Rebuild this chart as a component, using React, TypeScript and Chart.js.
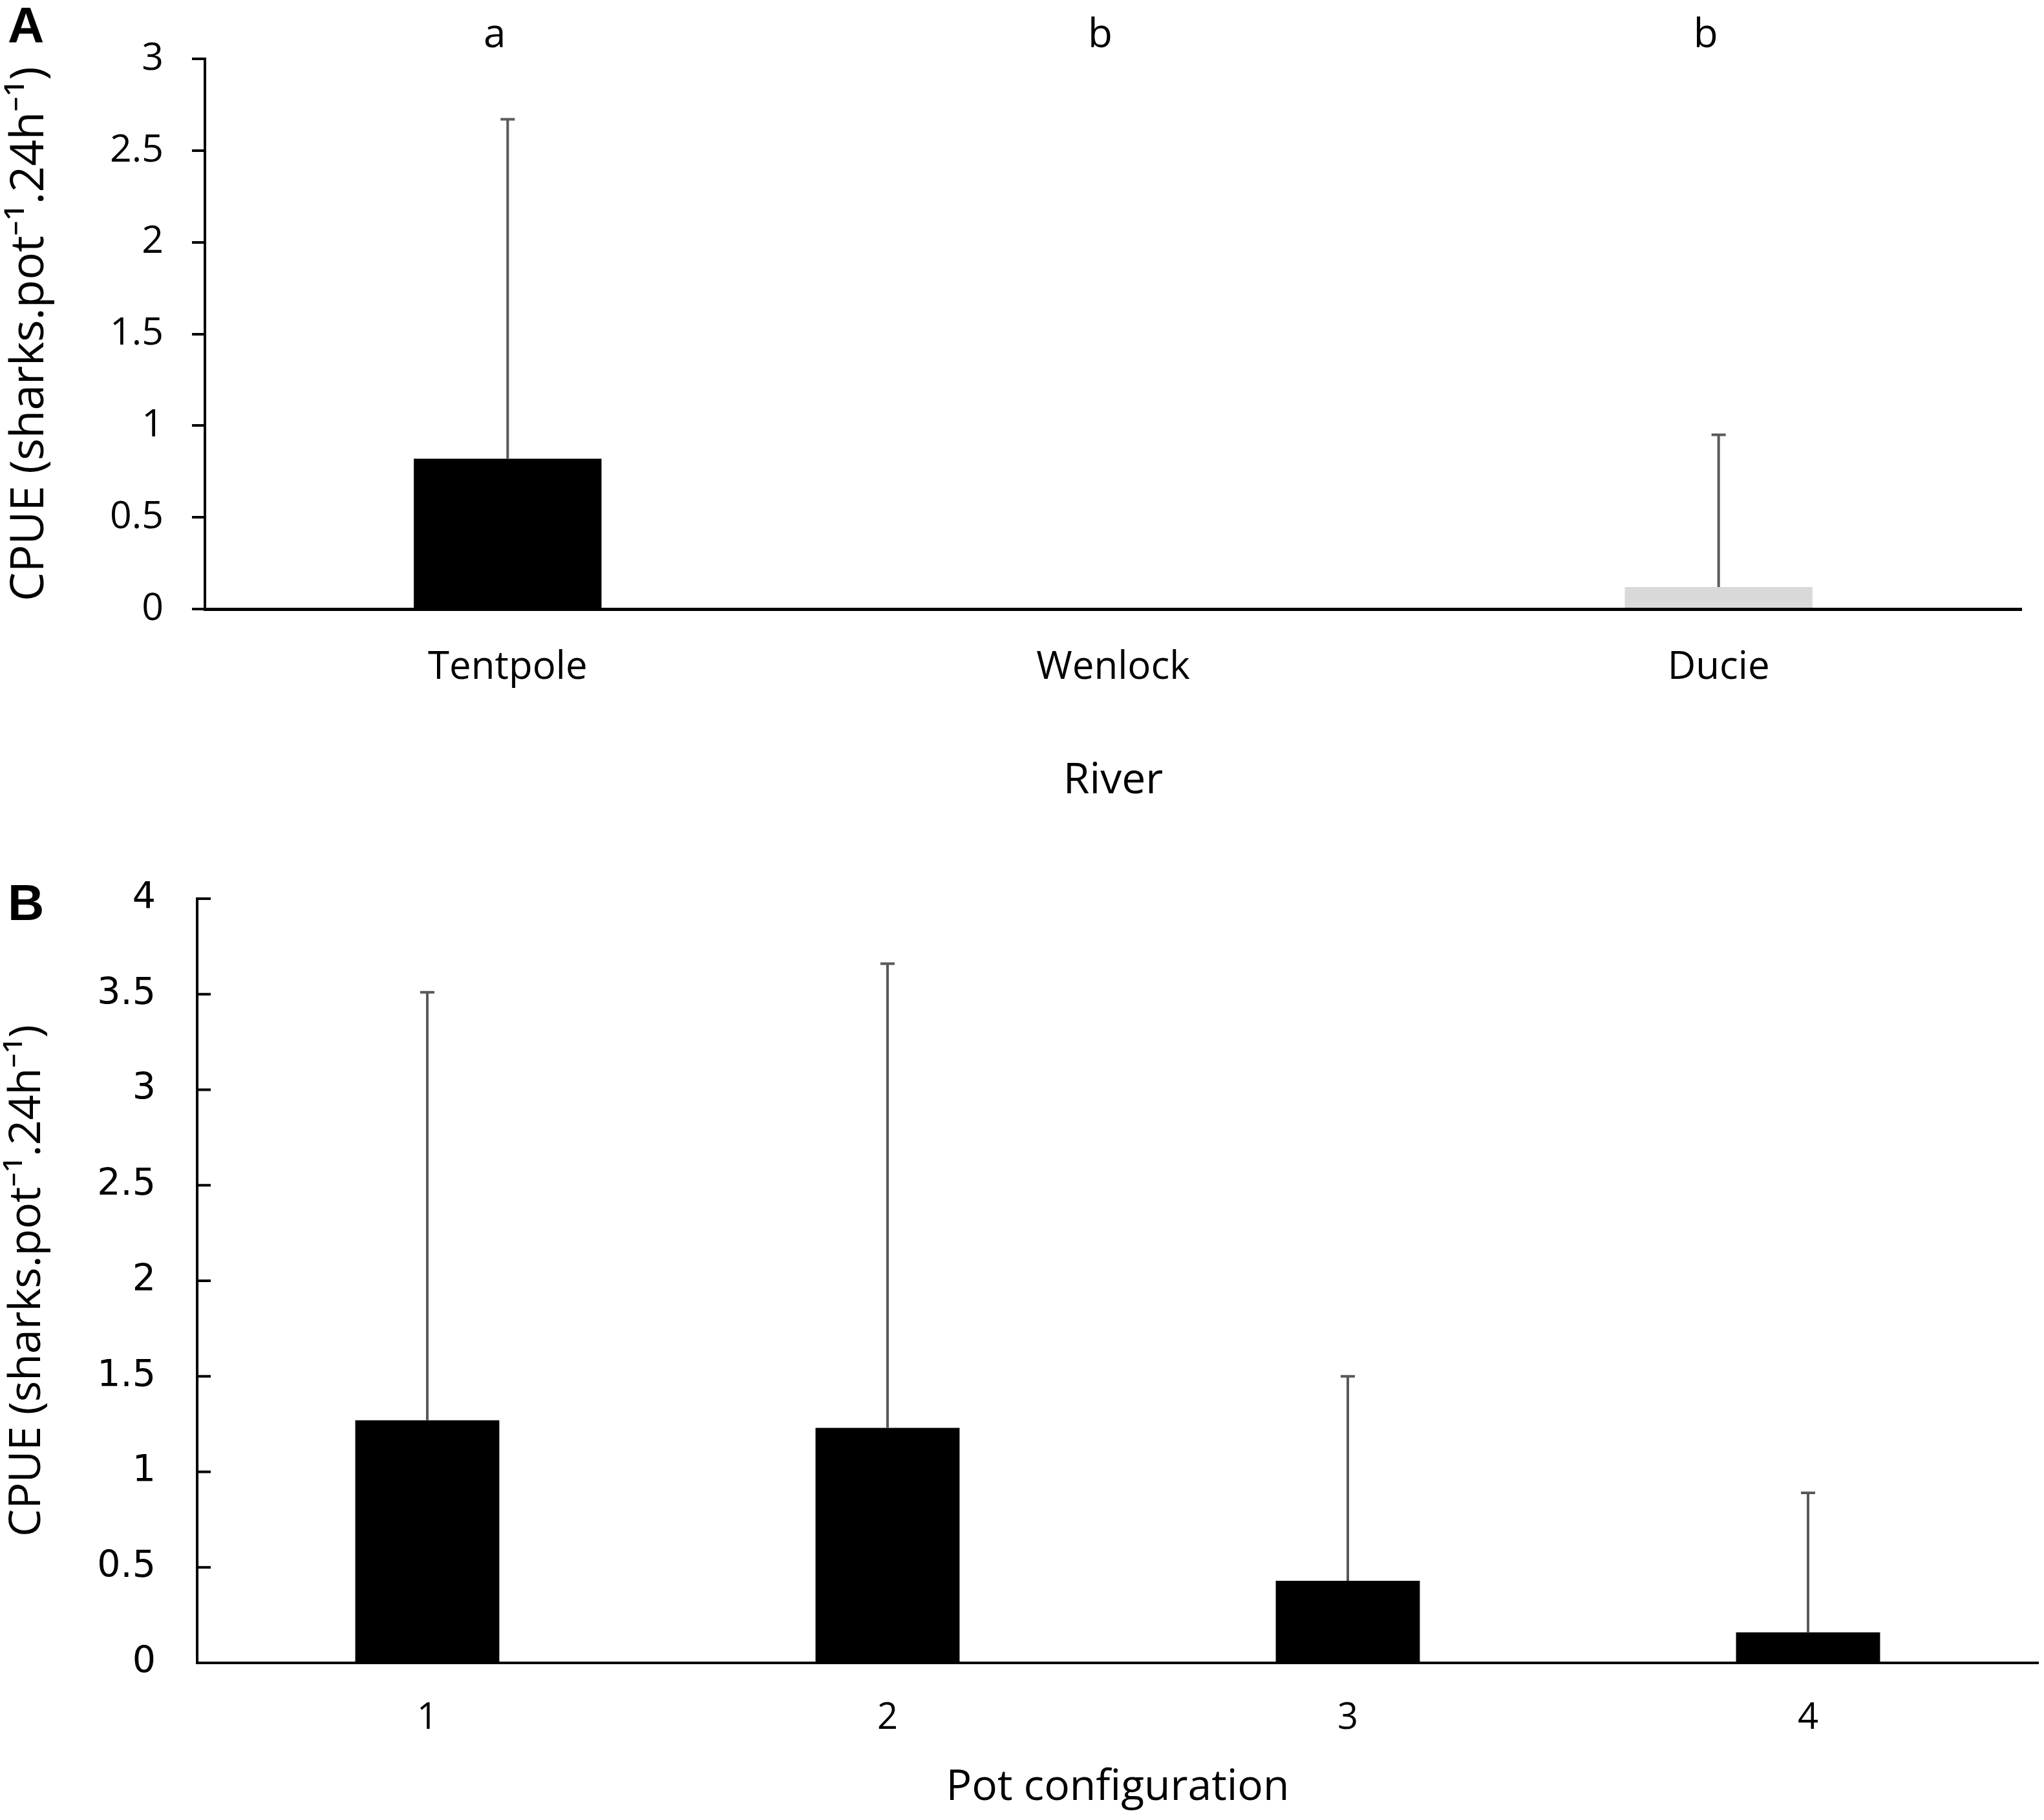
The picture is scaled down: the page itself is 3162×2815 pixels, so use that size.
import { useEffect, useRef } from "react";
import Chart from "chart.js/auto";

// Panel A: CPUE by river
const riverLabels = ["Tentpole", "Wenlock", "Ducie"];
const riverMeans = [0.82, 0, 0.12];
const riverErrors = [1.85, 0, 0.83];
const riverColors = ["#000000", "#000000", "#d9d9d9"];
const riverLetters = ["a", "b", "b"];

// Panel B: CPUE by pot configuration
const potLabels = ["1", "2", "3", "4"];
const potMeans = [1.27, 1.23, 0.43, 0.16];
const potErrors = [2.24, 2.43, 1.07, 0.73];

const yTitle = "CPUE (sharks.pot⁻¹.24h⁻¹)";

const W = 3162;
const HA = 1290;
const HB = 1525;

// upper error bars from the bar top
function errorBarPlugin(errors: number[]) {
  return {
    id: "errorBars",
    afterDatasetsDraw(chart: any) {
      const { ctx } = chart;
      const x = chart.scales.x;
      const y = chart.scales.y;
      const means = chart.data.datasets[0].data as number[];
      ctx.save();
      ctx.strokeStyle = "#595959";
      ctx.lineWidth = 4;
      means.forEach((m, i) => {
        if (!errors[i]) return;
        const px = x.getPixelForValue(i);
        const base = y.getPixelForValue(m);
        const top = y.getPixelForValue(m + errors[i]);
        ctx.beginPath();
        ctx.moveTo(px, base);
        ctx.lineTo(px, top);
        ctx.moveTo(px - 11, top);
        ctx.lineTo(px + 11, top);
        ctx.stroke();
      });
      ctx.restore();
    },
  };
}

// significance letters above each category
const letterPlugin = {
  id: "letters",
  afterDraw(chart: any) {
    const { ctx, chartArea } = chart;
    const x = chart.scales.x;
    ctx.save();
    ctx.fillStyle = "#000";
    ctx.font = "62px 'Open Sans'";
    ctx.textAlign = "center";
    ctx.textBaseline = "alphabetic";
    riverLetters.forEach((l, i) => {
      ctx.fillText(l, x.getPixelForValue(i) - 20, chartArea.top - 18);
    });
    ctx.restore();
  },
};

// panel B has its y tick marks pointing into the plot
const innerTicksPlugin = {
  id: "innerTicks",
  afterDraw(chart: any) {
    const { ctx, chartArea } = chart;
    const y = chart.scales.y;
    ctx.save();
    ctx.strokeStyle = "#000";
    ctx.lineWidth = 4;
    y.ticks.forEach((_: any, i: number) => {
      const py = y.getPixelForTick(i);
      ctx.beginPath();
      ctx.moveTo(chartArea.left, py);
      ctx.lineTo(chartArea.left + 21, py);
      ctx.stroke();
    });
    ctx.restore();
  },
};

const plainNumber = (v: any) => String(Number(v));

export default function App() {
  const refA = useRef<HTMLCanvasElement>(null);
  const refB = useRef<HTMLCanvasElement>(null);

  useEffect(() => {
    const charts: Chart[] = [];

    if (refA.current) {
      charts.push(
        new Chart(refA.current, {
          type: "bar",
          data: {
            labels: riverLabels,
            datasets: [
              {
                data: riverMeans,
                backgroundColor: riverColors,
                borderWidth: 0,
                categoryPercentage: 1,
                barPercentage: 0.31,
              },
            ],
          },
          options: {
            responsive: false,
            animation: false,
            layout: { padding: { top: 91, right: 35, left: 0, bottom: 0 } },
            plugins: { legend: { display: false }, tooltip: { enabled: false } },
            scales: {
              x: {
                afterFit: (s: any) => {
                  s.height = HA - 942;
                },
                grid: { display: false, drawTicks: false },
                border: { color: "#000", width: 5 },
                ticks: { color: "#000", padding: 55, font: { family: "Open Sans", size: 60 } },
                title: {
                  display: true,
                  text: "River",
                  color: "#000",
                  font: { family: "Open Sans", size: 66 },
                  padding: { top: 0, bottom: 42 },
                },
              },
              y: {
                min: 0,
                max: 3,
                afterFit: (s: any) => {
                  s.width = 317;
                },
                grid: { drawOnChartArea: false, drawTicks: true, tickLength: 20, color: "#000", lineWidth: 4 },
                border: { color: "#000", width: 4 },
                ticks: {
                  stepSize: 0.5,
                  color: "#000",
                  padding: 44,
                  font: { family: "Open Sans", size: 59 },
                  callback: plainNumber,
                },
                title: {
                  display: true,
                  text: yTitle,
                  color: "#000",
                  font: { family: "Open Sans", size: 71 },
                  padding: { top: 4, bottom: 0 },
                },
              },
            },
          },
          plugins: [errorBarPlugin(riverErrors), letterPlugin],
        })
      );
    }

    if (refB.current) {
      charts.push(
        new Chart(refB.current, {
          type: "bar",
          data: {
            labels: potLabels,
            datasets: [
              {
                data: potMeans,
                backgroundColor: "#000000",
                borderWidth: 0,
                categoryPercentage: 1,
                barPercentage: 0.313,
              },
            ],
          },
          options: {
            responsive: false,
            animation: false,
            layout: { padding: { top: 100, right: 9, left: 0, bottom: 0 } },
            plugins: { legend: { display: false }, tooltip: { enabled: false } },
            scales: {
              x: {
                afterFit: (s: any) => {
                  s.height = HB - 1282;
                },
                grid: { display: false, drawTicks: false },
                border: { color: "#000", width: 4 },
                ticks: { color: "#000", padding: 52, font: { family: "Open Sans", size: 56 } },
                title: {
                  display: true,
                  text: "Pot configuration",
                  color: "#000",
                  font: { family: "Open Sans", size: 66 },
                  padding: { top: 0, bottom: 10 },
                },
              },
              y: {
                min: 0,
                max: 4,
                afterFit: (s: any) => {
                  s.width = 305;
                },
                grid: { display: false, drawTicks: false },
                border: { color: "#000", width: 4 },
                ticks: {
                  stepSize: 0.5,
                  color: "#000",
                  padding: 64,
                  font: { family: "DejaVu Sans", size: 57 },
                  callback: plainNumber,
                },
                title: {
                  display: true,
                  text: yTitle,
                  color: "#000",
                  font: { family: "Open Sans", size: 68 },
                  padding: { top: 2, bottom: 0 },
                },
              },
            },
          },
          plugins: [errorBarPlugin(potErrors), innerTicksPlugin],
        })
      );
    }

    return () => charts.forEach((c) => c.destroy());
  }, []);

  const panelLetter: React.CSSProperties = {
    position: "absolute",
    left: 12,
    fontFamily: "'Liberation Sans', Arial, sans-serif",
    fontWeight: "bold",
    fontSize: 78,
    lineHeight: 1,
    color: "#000",
  };

  return (
    <div style={{ position: "absolute", left: 0, top: 0, width: W, height: HA + HB, background: "#fff" }}>
      <canvas ref={refA} width={W} height={HA} style={{ position: "absolute", left: 0, top: 0 }} />
      <canvas ref={refB} width={W} height={HB} style={{ position: "absolute", left: 0, top: HA }} />
      <div style={{ ...panelLetter, top: 0 }}>A</div>
      <div style={{ ...panelLetter, top: 1357 }}>B</div>
    </div>
  );
}
